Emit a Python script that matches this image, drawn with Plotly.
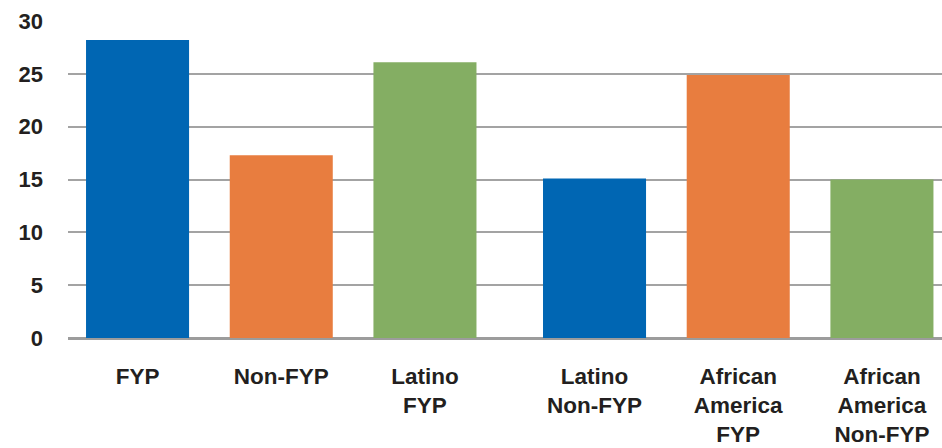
import plotly.graph_objects as go

# Average values per student group
categories = ["FYP", "Non-FYP", "Latino FYP", "Latino Non-FYP",
              "African America FYP", "African America Non-FYP"]
tick_labels = ["FYP", "Non-FYP", "Latino<br>FYP", "Latino<br>Non-FYP",
               "African<br>America<br>FYP", "African<br>America<br>Non-FYP"]
values = [28.2, 17.3, 26.1, 15.1, 24.9, 15.0]

BLUE, ORANGE, GREEN = "#0066B3", "#E87D3F", "#84AE63"
bar_colors = [BLUE, ORANGE, GREEN, BLUE, ORANGE, GREEN]

# slightly wider gap between the overall/Latino block and the rest
GROUP_GAP = 0.18
x_pos = [i + (GROUP_GAP if i >= 3 else 0) for i in range(len(categories))]

FONT = "Liberation Sans, Arial, Helvetica, sans-serif"
TEXT = "#231F20"

fig = go.Figure(
    go.Bar(
        x=x_pos,
        y=values,
        width=0.717,
        marker=dict(color=bar_colors, line=dict(width=0)),
        hovertext=categories,
        hoverinfo="text+y",
    )
)

fig.update_layout(
    width=942,
    height=448,
    margin=dict(l=68, r=0, t=21, b=110, autoexpand=False),
    paper_bgcolor="white",
    plot_bgcolor="white",
    showlegend=False,
    font=dict(family=FONT, color=TEXT),
)

fig.update_xaxes(
    automargin=False,
    range=[-0.484, 5.598],
    tickmode="array",
    tickvals=x_pos,
    ticktext=tick_labels,
    tickfont=dict(family=FONT, size=22.5, color=TEXT, weight="bold"),
    ticks="",
    ticklabelstandoff=22,
    showgrid=False,
    zeroline=False,
    showline=False,
)

fig.update_yaxes(
    automargin=False,
    range=[0, 30],
    tickmode="linear",
    tick0=0,
    dtick=5,
    tickfont=dict(family=FONT, size=22, color=TEXT, weight="bold"),
    ticks="",
    ticklabelstandoff=24,
    showgrid=True,
    gridcolor="#A3A3A3",
    gridwidth=1.6,
    zeroline=True,
    zerolinecolor="#9C9C9C",
    zerolinewidth=2.8,
    showline=False,
)

fig.write_html("out.html")
